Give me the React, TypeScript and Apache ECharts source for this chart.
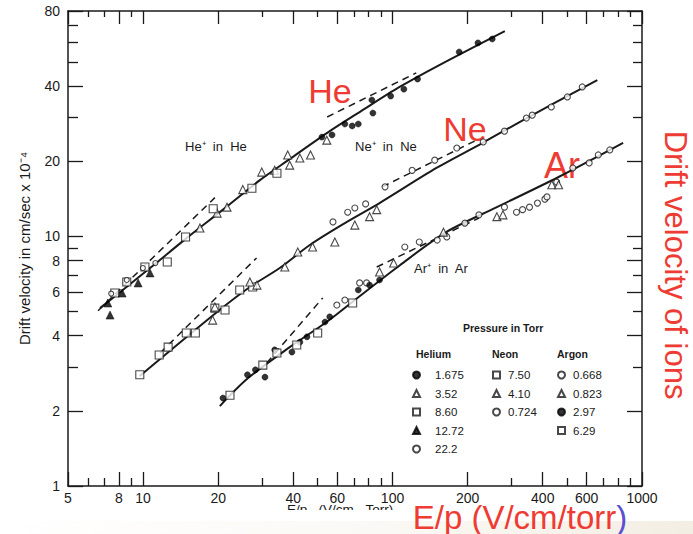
import React, { useEffect, useRef } from 'react';
import * as echarts from 'echarts';

// ---- axis ticks / labels ----
const xLabelTicks = [5, 8, 10, 20, 40, 60, 100, 200, 400, 600, 1000];
const xMinorTicks = [6, 7, 9, 30, 50, 70, 80, 90, 300, 500, 700, 800, 900];
const yLabelTicks = [1, 2, 4, 6, 8, 10, 20, 40, 80];
const yMinorTicks = [3, 5, 7, 9, 30, 50, 60, 70];

// ---- fitted curves (E/p, drift velocity) ----
const heFit = [[6.72, 5.16], [10.66, 7.47], [14.9, 9.82], [20.9, 12.8], [29.4, 16.8], [38.7, 20.4], [56.0, 26.4], [73.8, 31.5], [106.7, 39.7], [154, 48.6], [282, 66.5]];
const neFit = [[9.7, 2.76], [19.8, 4.98], [26.8, 6.27], [35.3, 7.47], [46.6, 9.24], [65.6, 11.43], [88.7, 13.6], [150, 18.8], [228, 23.6], [341, 29.6], [662, 42.3]];
const arFit = [[20.3, 2.09], [26.3, 2.7], [38.7, 3.6], [54.4, 4.54], [72.5, 5.68], [106.7, 7.65], [164, 10.4], [262, 13.1], [463, 17.3], [840, 23.7]];
// ---- limiting (dashed) lines ----
const heLowLimit = [[6.6, 5.04], [19.4, 14.3]];
const heHighLimit = [[54.7, 30.1], [124.5, 45.2]];
const neLowLimit = [[11.7, 3.41], [28.5, 8.2]];
const neHighLimit = [[91, 15.8], [217, 24.3]];
const arLowLimit = [[31.3, 3.11], [52.5, 5.67]];
const arHighLimit = [[86.4, 7.54], [222, 11.85]];

// ---- Helium data, by pressure (Torr) ----
const he1675 = [[52.1, 25.0], [57.2, 25.5], [64.4, 28.2], [68.9, 27.7], [72.9, 28.2], [82.6, 35.2], [83.4, 31.2], [98.3, 36.5], [111, 38.9], [126, 42.7], [185, 54.8], [220, 59.6], [251, 61.8]];
const he352 = [[16.9, 10.8], [19.8, 12.4], [21.7, 13.1], [25.1, 15.4], [29.9, 18.1], [33.7, 18.4], [38.0, 21.2], [38.7, 19.3], [42.5, 20.6], [46.9, 21.2], [54.5, 24.3]];
const he860 = [[7.7, 5.93], [8.6, 6.57], [10.17, 7.54], [12.5, 7.9], [14.8, 9.95], [19.1, 12.9], [27.3, 15.6], [34.4, 17.9]];
const he1272 = [[7.37, 4.84], [7.22, 5.41], [8.24, 5.93], [9.55, 6.51], [10.66, 7.14]];
const he222 = [[7.45, 5.9], [8.6, 6.69], [9.98, 7.47], [11.2, 7.82]];
// ---- Neon data ----
const ne750 = [[9.7, 2.79], [11.6, 3.35], [12.6, 3.6], [14.9, 4.1], [16.2, 4.1], [19.4, 5.16], [21.3, 5.07], [24.4, 6.1], [27.5, 6.27]];
const ne410 = [[19.0, 4.62], [19.4, 5.21], [26.8, 6.57], [28.6, 6.38], [37.0, 7.54], [41.7, 8.66], [47.8, 9.07], [58.7, 9.5], [70.6, 11.1], [80.9, 12.0], [86.4, 12.8]];
const ne0724 = [[57.7, 11.43], [66.1, 12.5], [70.6, 13.0], [78, 13.5], [93.3, 15.8], [119.8, 18.4], [147.6, 20.2], [181, 22.6], [231, 23.9], [281, 26.4], [344, 29.8], [363, 30.6], [433, 33.0], [502, 36.2], [576, 39.7]];
// ---- Argon data ----
const ar0668 = [[59.8, 5.31], [64.4, 5.56], [73.8, 6.51], [78.7, 6.51], [112, 9.07], [128, 9.5], [151, 9.67], [165, 9.95], [195, 11.3], [222, 12.2], [281, 13.1], [314, 12.5], [332, 12.8], [354, 13.1], [381, 13.6], [408, 14.1], [416, 14.4], [455, 16.5], [528, 18.8], [614, 19.7], [668, 21.2], [743, 22.2]];
const ar0823 = [[88.7, 7.2], [101, 7.82], [160, 10.4], [262, 12.0], [277, 12.2], [435, 16.1], [463, 16.1]];
const ar297 = [[20.9, 2.25], [26.2, 2.79], [28.2, 2.92], [30.8, 2.73], [33.7, 3.51], [39.5, 3.44], [42.5, 3.77], [45.4, 3.96], [53.6, 4.54], [56, 4.76], [72.9, 6.1], [80.9, 6.38], [88.7, 6.69]];
const ar629 = [[22.3, 2.31], [30.2, 3.05], [34.4, 3.41], [41.3, 3.67], [50.1, 4.1], [69.2, 5.41]];

const heliumNames = ['1.675', '3.52', '8.60', '12.72', '22.2'];
const neonNames = ['7.50', '4.10', '0.724'];
const argonNames = ['0.668', '0.823', '2.97', '6.29'];

const RED = '#ee3b33';
const INK = '#1a1a1a';
const FONT = '"Liberation Sans", Arial, sans-serif';

type Mk = { name: string; data: number[][]; symbol: string; size: number; filled: boolean };
const markers: Mk[] = [
  { name: '1.675', data: he1675, symbol: 'circle', size: 6, filled: true },
  { name: '3.52', data: he352, symbol: 'triangle', size: 8, filled: false },
  { name: '8.60', data: he860, symbol: 'rect', size: 8, filled: false },
  { name: '12.72', data: he1272, symbol: 'triangle', size: 8, filled: true },
  { name: '22.2', data: he222, symbol: 'circle', size: 5, filled: false },
  { name: '7.50', data: ne750, symbol: 'rect', size: 8, filled: false },
  { name: '4.10', data: ne410, symbol: 'triangle', size: 8, filled: false },
  { name: '0.724', data: ne0724, symbol: 'circle', size: 6, filled: false },
  { name: '0.668', data: ar0668, symbol: 'circle', size: 6, filled: false },
  { name: '0.823', data: ar0823, symbol: 'triangle', size: 8, filled: false },
  { name: '2.97', data: ar297, symbol: 'circle', size: 6, filled: true },
  { name: '6.29', data: ar629, symbol: 'rect', size: 8, filled: false },
];

const fmt = (v: number) => String(Math.round(v * 1000) / 1000);

function logAxis(min: number, max: number, position: string, ticks: number[], len: number, showLine: boolean, labels: number[] | null) {
  return {
    type: 'log',
    logBase: 10,
    min,
    max,
    position,
    axisLine: { show: showLine, onZero: false, lineStyle: { color: INK, width: 1.5 } },
    axisTick: { show: true, inside: true, length: len, customValues: ticks, lineStyle: { color: INK, width: 1.3 } },
    minorTick: { show: false },
    splitLine: { show: false },
    axisLabel: labels
      ? { show: true, customValues: labels, formatter: fmt, color: INK, fontSize: 14, fontFamily: FONT, margin: position === 'bottom' ? 5 : 8 }
      : { show: false },
  };
}

export default function App() {
  const ref = useRef<HTMLDivElement>(null);
  useEffect(() => {
    if (!ref.current) return;
    const chart = echarts.init(ref.current, undefined, { renderer: 'svg' });

    const lineSeries = [
      { d: heFit, dash: false }, { d: neFit, dash: false }, { d: arFit, dash: false },
      { d: heLowLimit, dash: true }, { d: heHighLimit, dash: true },
      { d: neLowLimit, dash: true }, { d: neHighLimit, dash: true },
      { d: arLowLimit, dash: true }, { d: arHighLimit, dash: true },
    ].map((l) => ({
      type: 'line',
      data: l.d,
      xAxisIndex: 0,
      yAxisIndex: 0,
      showSymbol: false,
      symbol: 'none',
      smooth: l.dash ? false : 0.3,
      silent: true,
      z: 2,
      lineStyle: { color: INK, width: l.dash ? 1.5 : 2, type: l.dash ? [7, 5] : 'solid' },
    }));

    const scatterSeries = markers.map((m) => ({
      type: 'scatter',
      name: m.name,
      data: m.data,
      xAxisIndex: 0,
      yAxisIndex: 0,
      symbol: m.symbol,
      symbolSize: m.size,
      z: 3,
      itemStyle: m.filled
        ? { color: '#000000', borderColor: '#000000', borderWidth: 0.6 }
        : { color: '#ffffff', borderColor: INK, borderWidth: 1.1 },
    }));

    const legendCommon = {
      orient: 'vertical',
      padding: 0,
      itemWidth: 7,
      itemHeight: 7,
      itemGap: 6.5,
      selectedMode: false,
    };
    const legendText = (padLeft: number) => ({
      fontSize: 11.5,
      color: INK,
      fontFamily: FONT,
      lineHeight: 12,
      padding: [0, 0, 0, padLeft],
    });
    const hdr = { fontSize: 10.5, fontWeight: 'bold', fill: INK, fontFamily: FONT };
    const ann = { fontSize: 13, fill: INK, fontFamily: FONT };
    const big = { fontSize: 34, fill: RED, fontFamily: FONT, align: 'center', verticalAlign: 'middle' };

    chart.setOption({
      animation: false,
      backgroundColor: '#ffffff',
      grid: { left: 68, right: 51, top: 11, bottom: 48, containLabel: false },
      xAxis: [
        logAxis(5, 1000, 'bottom', xLabelTicks, 14, true, xLabelTicks),
        logAxis(5, 1000, 'bottom', xMinorTicks, 8, false, null),
        logAxis(5, 1000, 'top', xLabelTicks, 13, true, null),
        logAxis(5, 1000, 'top', xMinorTicks, 6, false, null),
      ],
      yAxis: [
        {
          ...logAxis(1, 80, 'left', yLabelTicks, 15, true, yLabelTicks),
          name: 'Drift velocity in cm/sec x 10\u207B\u2074',
          nameLocation: 'middle',
          nameRotate: 90,
          nameGap: 36,
          nameTextStyle: { color: INK, fontSize: 15, fontFamily: FONT },
        },
        logAxis(1, 80, 'left', yMinorTicks, 10, false, null),
        logAxis(1, 80, 'right', yLabelTicks, 15, true, null),
        logAxis(1, 80, 'right', yMinorTicks, 9, false, null),
      ],
      legend: [
        { ...legendCommon, left: 412, top: 369, data: heliumNames, textStyle: legendText(10) },
        { ...legendCommon, left: 492, top: 369, data: neonNames, textStyle: legendText(3) },
        { ...legendCommon, left: 557, top: 369, data: argonNames, textStyle: legendText(3) },
      ],
      graphic: [
        { type: 'text', left: 185, top: 140, style: { text: 'He\u207A  in  He', ...ann } },
        { type: 'text', left: 355, top: 140, style: { text: 'Ne\u207A  in  Ne', ...ann } },
        { type: 'text', left: 414, top: 262, style: { text: 'Ar\u207A  in  Ar', ...ann } },
        { type: 'text', left: 463, top: 322, style: { text: 'Pressure in Torr', ...hdr } },
        { type: 'text', left: 416, top: 348, style: { text: 'Helium', ...hdr } },
        { type: 'text', left: 492, top: 348, style: { text: 'Neon', ...hdr } },
        { type: 'text', left: 557, top: 348, style: { text: 'Argon', ...hdr } },
        // clipped axis title of the scan
        { type: 'text', left: 287, top: 502, style: { text: 'E/p   (V/cm \u00B7 Torr)', fontSize: 13.5, fill: INK, fontFamily: FONT } },
        { type: 'rect', left: 0, top: 510, shape: { width: 693, height: 24 }, style: { fill: '#ffffff' } },
        {
          type: 'rect', left: 0, top: 521, shape: { width: 693, height: 13 },
          style: {
            fill: new echarts.graphic.LinearGradient(0, 0, 1, 0, [
              { offset: 0, color: '#ffffff' },
              { offset: 0.55, color: '#fbf9f5' },
              { offset: 1, color: '#f3eee3' },
            ]),
          },
        },
        // red overlay annotations
        { type: 'text', x: 330, y: 91, style: { text: 'He', ...big } },
        { type: 'text', x: 465, y: 129, style: { text: 'Ne', ...big } },
        { type: 'text', x: 562, y: 165, style: { text: 'Ar', ...big, fontSize: 36 } },
        { type: 'text', x: 675, y: 265, rotation: -Math.PI / 2, style: { text: 'Drift velocity of ions', ...big, fontSize: 31 } },
        {
          type: 'text', x: 520, y: 517,
          style: {
            text: '{a|E/p (V/cm/torr}{b|)}', align: 'center', verticalAlign: 'middle',
            rich: {
              a: { fontSize: 33, fill: RED, fontFamily: FONT },
              b: { fontSize: 33, fill: '#5a4fd0', fontFamily: FONT },
            },
          },
        },
      ],
      series: [...lineSeries, ...scatterSeries],
    });
    return () => chart.dispose();
  }, []);

  return <div ref={ref} style={{ position: 'fixed', left: 0, top: 0, width: 693, height: 534 }} />;
}
